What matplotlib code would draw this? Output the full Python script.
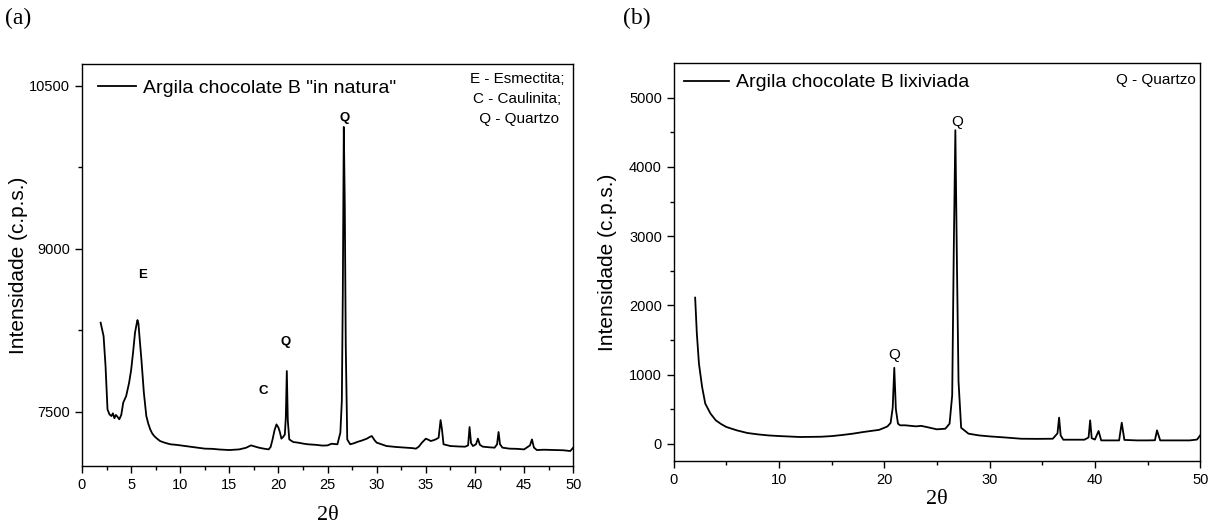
import matplotlib
matplotlib.use("Agg")
import matplotlib.pyplot as plt
import numpy as np

# ---- panel (a): Argila chocolate B "in natura"
theta_a = [1.9, 2.2, 2.4, 2.6, 2.8, 3.0, 3.15, 3.3, 3.45, 3.6, 3.8, 4.0, 4.2, 4.5, 4.8,
           5.0, 5.2, 5.4, 5.55, 5.65, 5.75, 5.85, 6.05, 6.3, 6.55, 6.75, 6.95, 7.15, 7.35,
           7.6, 7.95, 8.4, 9.0, 9.6, 10.0, 10.8, 11.5, 12.5, 13.3, 14.0, 15.0, 16.0,
           16.7, 17.2, 17.6, 18.0, 18.5, 19.0, 19.2, 19.4, 19.6, 19.8, 20.0, 20.15,
           20.3, 20.5, 20.65, 20.75, 20.85, 20.95, 21.1, 21.5, 22.0, 22.6, 23.0, 23.8,
           24.5, 25.0, 25.4, 26.0, 26.3, 26.45, 26.55, 26.65, 26.75, 26.85, 27.0, 27.3,
           27.7, 28.0, 28.5, 29.0, 29.3, 29.5, 29.8, 30.0, 30.5, 31.0, 32.0, 33.0, 33.6,
           34.0, 34.3, 34.6, 35.0, 35.3, 35.5, 35.8, 36.0, 36.3, 36.5, 36.65, 36.8, 37.5,
           38.3, 39.0, 39.3, 39.45, 39.6, 39.8, 40.1, 40.3, 40.5, 40.8, 41.5, 42.0,
           42.25, 42.4, 42.55, 42.8, 43.5, 44.3, 45.0, 45.6, 45.8, 46.0, 46.3, 47.0,
           48.0, 49.0, 49.7, 50.0]
int_a = [8319, 8196, 7920, 7521, 7475, 7460, 7485, 7440, 7470, 7455, 7430, 7470, 7583,
         7644, 7767, 7880, 8043, 8227, 8300, 8343, 8310, 8196, 7981, 7675, 7460, 7390,
         7337, 7300, 7276, 7255, 7230, 7215, 7200, 7195, 7190, 7180, 7172, 7160, 7158,
         7152, 7147, 7153, 7168, 7190, 7180, 7169, 7160, 7153, 7175, 7245, 7330, 7383,
         7353, 7310, 7252, 7270, 7291, 7450, 7874, 7420, 7245, 7221, 7215, 7205, 7200,
         7195, 7188, 7190, 7205, 7200, 7307, 7600, 8600, 10120, 9400, 8100, 7245, 7200,
         7210, 7221, 7235, 7252, 7268, 7276, 7235, 7215, 7200, 7184, 7175, 7169, 7165,
         7160, 7180, 7215, 7252, 7240, 7230, 7238, 7245, 7260, 7423, 7330, 7200, 7184,
         7180, 7178, 7190, 7359, 7210, 7184, 7200, 7252, 7195, 7178, 7172, 7169, 7200,
         7313, 7200, 7169, 7160, 7158, 7153, 7190, 7245, 7170, 7147, 7150, 7147, 7145,
         7138, 7169]

# ---- panel (b): Argila chocolate B lixiviada
theta_b = [2.04, 2.2, 2.4, 2.7, 3.0, 3.5, 4.0, 4.5, 5.0, 6.0, 7.0, 8.0, 9.0, 10.0,
           11.0, 12.0, 13.0, 14.0, 15.0, 16.0, 17.0, 18.0, 19.0, 19.5, 20.0, 20.3,
           20.6, 20.8, 20.95, 21.1, 21.3, 21.5, 22.0, 23.0, 23.5, 24.0, 25.0, 25.8,
           26.2, 26.45, 26.6, 26.75, 26.9, 27.05, 27.3, 28.0, 29.0, 30.0, 31.5, 33.0,
           34.5, 36.0, 36.45, 36.6, 36.75, 37.0, 38.0, 39.0, 39.4, 39.55, 39.7, 40.0,
           40.35, 40.6, 41.5, 42.3, 42.55, 42.8, 44.0, 45.0, 45.7, 45.9, 46.2, 47.5,
           49.0, 49.7, 50.0]
int_b = [2111, 1594, 1159, 821, 580, 435, 338, 285, 242, 193, 155, 135, 120, 111, 104,
         97, 99, 101, 110, 126, 145, 169, 190, 200, 230, 250, 300, 520, 1097, 500, 290,
         266, 266, 251, 258, 242, 208, 217, 290, 700, 2800, 4531, 2600, 900, 230, 145,
         120, 106, 90, 72, 70, 72, 150, 377, 120, 58, 58, 58, 90, 338, 80, 60, 184, 48,
         48, 48, 304, 55, 48, 48, 50, 193, 48, 48, 48, 60, 121]

sans = ['Liberation Sans', 'DejaVu Sans']
serif = ['Liberation Serif', 'DejaVu Serif']
plt.rcParams['font.family'] = sans

fig = plt.figure(figsize=(12.16, 5.27), dpi=100)
ax1 = fig.add_axes([0.0674, 0.1157, 0.404, 0.763])
ax2 = fig.add_axes([0.554, 0.1252, 0.433, 0.755])

ax1.plot(theta_a, int_a, color='black', lw=1.3, label='Argila chocolate B "in natura"')
ax1.set_xlim(0, 50)
ax1.set_ylim(7000, 10700)
ax1.set_xticks(np.arange(0, 51, 5))
ax1.set_xticks(np.arange(0, 51, 2.5), minor=True)
ax1.set_yticks([7500, 9000, 10500])
ax1.set_yticks([8250, 9750], minor=True)

ax2.plot(theta_b, int_b, color='black', lw=1.3, label='Argila chocolate B lixiviada')
ax2.set_xlim(0, 50)
ax2.set_ylim(-250, 5500)
ax2.set_xticks(np.arange(0, 51, 10))
ax2.set_xticks(np.arange(0, 51, 5), minor=True)
ax2.set_yticks(np.arange(0, 5001, 1000))
ax2.set_yticks(np.arange(0, 5001, 500), minor=True)

for ax in (ax1, ax2):
    for s in ax.spines.values():
        s.set_linewidth(1.0)
    ax.tick_params(which='major', direction='out', length=5, width=1, labelsize=10.5)
    ax.tick_params(which='minor', direction='out', length=3, width=1)
    ax.set_ylabel('Intensidade (c.p.s.)', fontsize=15)

ax1.set_xlabel('2θ', fontsize=16, family=serif, labelpad=10)
ax2.set_xlabel('2θ', fontsize=16, family=serif, labelpad=2)
ax1.yaxis.set_label_coords(-0.11, 0.5)
ax2.yaxis.set_label_coords(-0.108, 0.5)

ax1.legend(loc='upper left', frameon=False, fontsize=14, handlelength=2.0,
           handletextpad=0.35, borderaxespad=0.6, borderpad=0.2)
ax2.legend(loc='upper left', frameon=False, fontsize=14, handlelength=2.3,
           handletextpad=0.35, borderaxespad=0.35, borderpad=0.2)

# mineral labels, panel (a)
ax1.text(49.1, 10558, 'E - Esmectita;', ha='right', va='center', fontsize=11)
ax1.text(48.8, 10380, 'C - Caulinita;', ha='right', va='center', fontsize=11)
ax1.text(48.6, 10196, ' Q - Quartzo', ha='right', va='center', fontsize=11)
ax1.text(6.2, 8754, 'E', ha='center', va='center', fontsize=9.5, weight='bold')
ax1.text(18.5, 7690, 'C', ha='center', va='center', fontsize=9.5, weight='bold')
ax1.text(20.7, 8144, 'Q', ha='center', va='center', fontsize=9.5, weight='bold')
ax1.text(26.7, 10205, 'Q', ha='center', va='center', fontsize=9.5, weight='bold')

# panel (b)
ax2.text(49.6, 5251, 'Q - Quartzo', ha='right', va='center', fontsize=11)
ax2.text(26.9, 4652, 'Q', ha='center', va='center', fontsize=11)
ax2.text(20.95, 1275, 'Q', ha='center', va='center', fontsize=11)

fig.text(0.004, 0.965, '(a)', fontsize=17, family=serif, va='center')
fig.text(0.512, 0.965, '(b)', fontsize=17, family=serif, va='center')

plt.savefig('out.png', dpi=100)
